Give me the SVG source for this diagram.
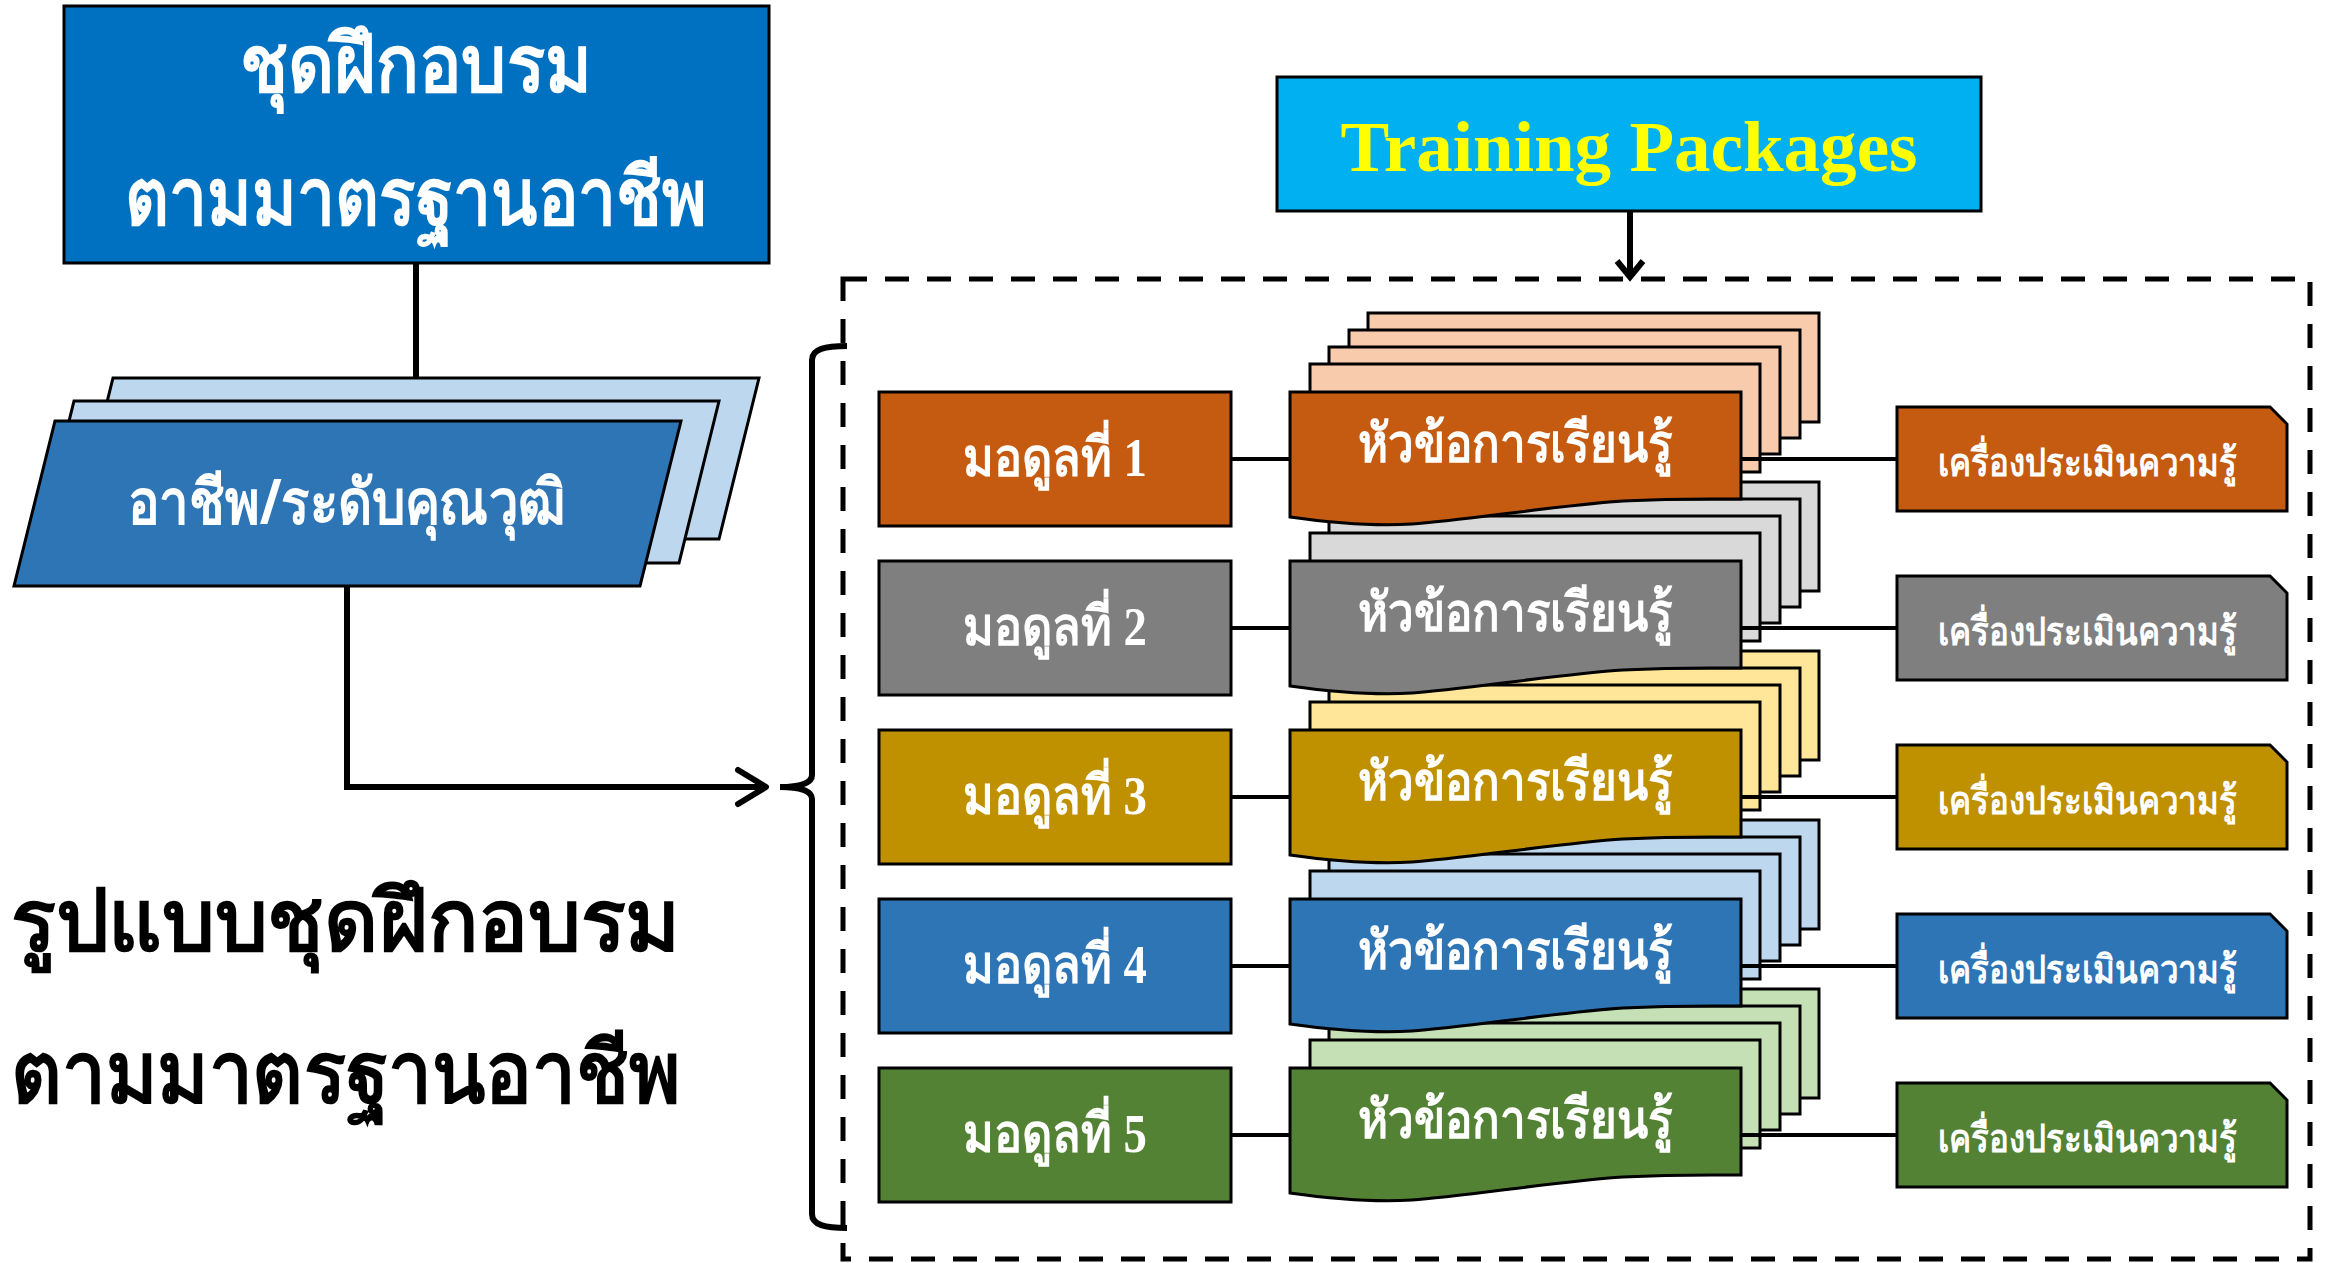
<svg xmlns="http://www.w3.org/2000/svg" width="2328" height="1263" viewBox="0 0 2328 1263">
<style>
.th{font-family:"Noto Sans","DejaVu Sans",sans-serif;font-weight:bold;fill:#fff}
.md{font-family:"Liberation Serif","Noto Sans",serif;font-weight:bold;fill:#fff;font-size:54px}
.bx{stroke:#000;stroke-width:3}
.ln{stroke:#000;stroke-width:4;fill:none}
.lt{stroke:#000;stroke-width:6;fill:none}
</style>
<rect width="2328" height="1263" fill="#fff"/>

<g id="title-box">
<rect class="bx" x="64" y="6" width="705" height="257" fill="#0070C0"/>
<text class="th" x="240" y="92" font-size="80" textLength="352" lengthAdjust="spacingAndGlyphs">ชุดฝึกอบรม</text>
<text class="th" x="125" y="225" font-size="80" textLength="582" lengthAdjust="spacingAndGlyphs">ตามมาตรฐานอาชีพ</text>
</g>

<g id="occupation">
<polygon class="bx" points="113,378 759,378 719,539 73,539" fill="#BDD7EE"/>
<polygon class="bx" points="74,401 719,401 679,563 34,563" fill="#BDD7EE"/>
<polygon class="bx" points="55,421 681,421 640,586 14,586" fill="#2E75B6"/>
<text class="th" x="128" y="524" font-size="62" textLength="438" lengthAdjust="spacingAndGlyphs">อาชีพ/ระดับคุณวุฒิ</text>
</g>

<g id="left-title">
<text class="th" x="11" y="950" font-size="84" textLength="669" lengthAdjust="spacingAndGlyphs" style="fill:#000">รูปแบบชุดฝึกอบรม</text>
<text class="th" x="11" y="1102" font-size="84" textLength="669" lengthAdjust="spacingAndGlyphs" style="fill:#000">ตามมาตรฐานอาชีพ</text>
</g>

<g id="training-packages">
<rect class="bx" x="1277" y="77" width="704" height="134" fill="#00B0F0"/>
<text x="1629" y="171" font-family="Liberation Serif" font-weight="bold" font-size="72" fill="#FFFF00" text-anchor="middle" textLength="577" lengthAdjust="spacingAndGlyphs">Training Packages</text>
</g>

<g id="package-frame">
<rect x="843" y="279" width="1467" height="980" fill="none" stroke="#000" stroke-width="5" stroke-dasharray="24 18"/>
</g>

<g id="row5" transform="translate(0,676)">
<g id="module5"><rect class="bx" x="879" y="392" width="352" height="134" fill="#548235"/>
<text class="md" x="963" y="476" textLength="184" lengthAdjust="spacingAndGlyphs">มอดูลที่ 5</text></g>
<g id="topic5">
<rect class="bx" x="1368" y="313" width="451" height="109" fill="#C5E0B4"/>
<rect class="bx" x="1349" y="330" width="451" height="108" fill="#C5E0B4"/>
<rect class="bx" x="1329" y="347" width="451" height="107" fill="#C5E0B4"/>
<rect class="bx" x="1310" y="364" width="450" height="108" fill="#C5E0B4"/>
<path class="bx" d="M1290,392 H1741 V499 C1720,499 1680,498 1623,501 C1560,505 1460,521 1412,524 C1380,526 1340,524 1290,517 Z" fill="#548235"/>
<text class="th" x="1358" y="462" font-size="54" textLength="315" lengthAdjust="spacingAndGlyphs">หัวข้อการเรียนรู้</text></g>
<g id="assess5"><path class="bx" d="M1897,407 H2270 L2287,424 V511 H1897 Z" fill="#548235"/>
<text class="th" x="1938" y="476" font-size="39" textLength="299" lengthAdjust="spacingAndGlyphs">เครื่องประเมินความรู้</text></g>
</g>

<g id="row4" transform="translate(0,507)">
<g id="module4"><rect class="bx" x="879" y="392" width="352" height="134" fill="#2E75B6"/>
<text class="md" x="963" y="476" textLength="184" lengthAdjust="spacingAndGlyphs">มอดูลที่ 4</text></g>
<g id="topic4">
<rect class="bx" x="1368" y="313" width="451" height="109" fill="#BDD7EE"/>
<rect class="bx" x="1349" y="330" width="451" height="108" fill="#BDD7EE"/>
<rect class="bx" x="1329" y="347" width="451" height="107" fill="#BDD7EE"/>
<rect class="bx" x="1310" y="364" width="450" height="108" fill="#BDD7EE"/>
<path class="bx" d="M1290,392 H1741 V499 C1720,499 1680,498 1623,501 C1560,505 1460,521 1412,524 C1380,526 1340,524 1290,517 Z" fill="#2E75B6"/>
<text class="th" x="1358" y="462" font-size="54" textLength="315" lengthAdjust="spacingAndGlyphs">หัวข้อการเรียนรู้</text></g>
<g id="assess4"><path class="bx" d="M1897,407 H2270 L2287,424 V511 H1897 Z" fill="#2E75B6"/>
<text class="th" x="1938" y="476" font-size="39" textLength="299" lengthAdjust="spacingAndGlyphs">เครื่องประเมินความรู้</text></g>
</g>

<g id="row3" transform="translate(0,338)">
<g id="module3"><rect class="bx" x="879" y="392" width="352" height="134" fill="#BF9000"/>
<text class="md" x="963" y="476" textLength="184" lengthAdjust="spacingAndGlyphs">มอดูลที่ 3</text></g>
<g id="topic3">
<rect class="bx" x="1368" y="313" width="451" height="109" fill="#FFE699"/>
<rect class="bx" x="1349" y="330" width="451" height="108" fill="#FFE699"/>
<rect class="bx" x="1329" y="347" width="451" height="107" fill="#FFE699"/>
<rect class="bx" x="1310" y="364" width="450" height="108" fill="#FFE699"/>
<path class="bx" d="M1290,392 H1741 V499 C1720,499 1680,498 1623,501 C1560,505 1460,521 1412,524 C1380,526 1340,524 1290,517 Z" fill="#BF9000"/>
<text class="th" x="1358" y="462" font-size="54" textLength="315" lengthAdjust="spacingAndGlyphs">หัวข้อการเรียนรู้</text></g>
<g id="assess3"><path class="bx" d="M1897,407 H2270 L2287,424 V511 H1897 Z" fill="#BF9000"/>
<text class="th" x="1938" y="476" font-size="39" textLength="299" lengthAdjust="spacingAndGlyphs">เครื่องประเมินความรู้</text></g>
</g>

<g id="row2" transform="translate(0,169)">
<g id="module2"><rect class="bx" x="879" y="392" width="352" height="134" fill="#7F7F7F"/>
<text class="md" x="963" y="476" textLength="184" lengthAdjust="spacingAndGlyphs">มอดูลที่ 2</text></g>
<g id="topic2">
<rect class="bx" x="1368" y="313" width="451" height="109" fill="#D9D9D9"/>
<rect class="bx" x="1349" y="330" width="451" height="108" fill="#D9D9D9"/>
<rect class="bx" x="1329" y="347" width="451" height="107" fill="#D9D9D9"/>
<rect class="bx" x="1310" y="364" width="450" height="108" fill="#D9D9D9"/>
<path class="bx" d="M1290,392 H1741 V499 C1720,499 1680,498 1623,501 C1560,505 1460,521 1412,524 C1380,526 1340,524 1290,517 Z" fill="#7F7F7F"/>
<text class="th" x="1358" y="462" font-size="54" textLength="315" lengthAdjust="spacingAndGlyphs">หัวข้อการเรียนรู้</text></g>
<g id="assess2"><path class="bx" d="M1897,407 H2270 L2287,424 V511 H1897 Z" fill="#7F7F7F"/>
<text class="th" x="1938" y="476" font-size="39" textLength="299" lengthAdjust="spacingAndGlyphs">เครื่องประเมินความรู้</text></g>
</g>

<g id="row1">
<g id="module1"><rect class="bx" x="879" y="392" width="352" height="134" fill="#C55A11"/>
<text class="md" x="963" y="476" textLength="184" lengthAdjust="spacingAndGlyphs">มอดูลที่ 1</text></g>
<g id="topic1">
<rect class="bx" x="1368" y="313" width="451" height="109" fill="#F8CBAD"/>
<rect class="bx" x="1349" y="330" width="451" height="108" fill="#F8CBAD"/>
<rect class="bx" x="1329" y="347" width="451" height="107" fill="#F8CBAD"/>
<rect class="bx" x="1310" y="364" width="450" height="108" fill="#F8CBAD"/>
<path class="bx" d="M1290,392 H1741 V499 C1720,499 1680,498 1623,501 C1560,505 1460,521 1412,524 C1380,526 1340,524 1290,517 Z" fill="#C55A11"/>
<text class="th" x="1358" y="462" font-size="54" textLength="315" lengthAdjust="spacingAndGlyphs">หัวข้อการเรียนรู้</text></g>
<g id="assess1"><path class="bx" d="M1897,407 H2270 L2287,424 V511 H1897 Z" fill="#C55A11"/>
<text class="th" x="1938" y="476" font-size="39" textLength="299" lengthAdjust="spacingAndGlyphs">เครื่องประเมินความรู้</text></g>
</g>

<g id="connectors">
<line class="lt" x1="416" y1="263" x2="416" y2="378"/>
<polyline class="lt" points="347,586 347,787 764,787"/>
<polyline class="lt" points="738,770 766,787 738,804" stroke-linecap="round" stroke-linejoin="round"/>
<path class="lt" d="M847,346 C825,346 812,349 812,360 V775 C812,783 800,787 780,787 C800,787 812,791 812,799 V1214 C812,1225 825,1228 847,1228" stroke-width="7"/>
<line class="lt" x1="1630" y1="211" x2="1630" y2="277"/>
<polyline class="lt" points="1617,261 1630,277 1643,261"/>
<g id="row-links">
<line class="ln" x1="1231" y1="459" x2="1290" y2="459"/>
<line class="ln" x1="1741" y1="459" x2="1897" y2="459"/>
<line class="ln" x1="1231" y1="628" x2="1290" y2="628"/>
<line class="ln" x1="1741" y1="628" x2="1897" y2="628"/>
<line class="ln" x1="1231" y1="797" x2="1290" y2="797"/>
<line class="ln" x1="1741" y1="797" x2="1897" y2="797"/>
<line class="ln" x1="1231" y1="966" x2="1290" y2="966"/>
<line class="ln" x1="1741" y1="966" x2="1897" y2="966"/>
<line class="ln" x1="1231" y1="1135" x2="1290" y2="1135"/>
<line class="ln" x1="1741" y1="1135" x2="1897" y2="1135"/>
</g>
</g>
</svg>
